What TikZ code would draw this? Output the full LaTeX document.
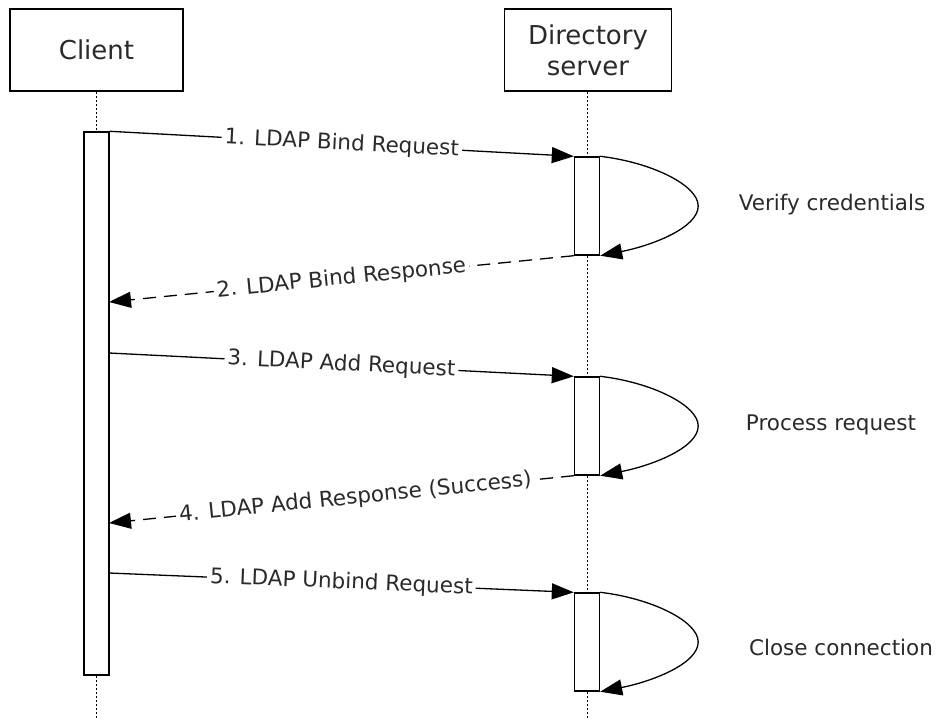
\documentclass[tikz,border=0pt]{standalone}
\usepackage{fontspec}
\setmainfont{DejaVu Sans}
\usetikzlibrary{arrows.meta}
\definecolor{txt}{HTML}{2A2A2A}
\begin{document}
\begin{tikzpicture}[x=1pt,y=-1pt,
  actor/.style={draw, line width=1.4pt, minimum width=#1, minimum height=82pt, inner sep=0pt,
    font=\fontsize{26}{31}\selectfont, text=txt, align=center},
  bar/.style={draw, line width=1.4pt, fill=white, minimum width=25pt, minimum height=#1, inner sep=0pt},
  life/.style={line width=1pt, dash pattern=on 2pt off 2pt},
  tip/.style={-{Triangle[length=22pt,width=16pt]}},
  msg/.style={line width=1.3pt, tip},
  reply/.style={line width=1.3pt, tip, dash pattern=on 13pt off 8pt},
  lbl/.style={sloped, fill=white, inner sep=3pt, font=\fontsize{21.5}{26}\selectfont, text=txt},
  note/.style={font=\fontsize{21.5}{26}\selectfont, text=txt}]
\useasboundingbox (0,0) rectangle (936,719);

% actors
\node[actor=173pt] (client) at (96.5,50) {Client};
\node[actor=167pt] (server) at (588,50) {Directory\\server};

% activation bars
\node[bar=543pt] (ca) at (96.5,403.5) {};
\node[bar=98pt] (s1) at (587,206) {};
\node[bar=98pt] (s2) at (587,426) {};
\node[bar=98pt] (s3) at (587,642) {};

% lifeline ends
\coordinate (cend) at (96.5,719);
\coordinate (send) at (587,719);

\draw[life] (client.south) -- (ca.north);
\draw[life] (ca.south) -- (cend);
\draw[life] (server.south -| s1.north) -- (s1.north);
\draw[life] (s1.south) -- (s2.north);
\draw[life] (s2.south) -- (s3.north);
\draw[life] (s3.south) -- (send);

% message end points on client bar
\coordinate (m2) at (109,302);
\coordinate (m3) at (109,353);
\coordinate (m4) at (109,523);
\coordinate (m5) at (109,573);

\draw[msg] (ca.north east) -- node[lbl] {1. LDAP Bind Request} (s1.north west);
\draw[reply] (s1.south west) -- node[lbl] {2. LDAP Bind Response} (m2);
\draw[msg] (m3) -- node[lbl] {3. LDAP Add Request} (s2.north west);
\draw[reply] (s2.south west) -- node[lbl, pos=0.47] {4. LDAP Add Response (Success)} (m4);
\draw[msg] (m5) -- node[lbl] {5. LDAP Unbind Request} (s3.north west);

% self loops
\foreach \s in {s1,s2,s3}{
  \draw[line width=1.3pt, tip] (\s.north east) .. controls +(51,6) and +(0,-21) .. ([xshift=98pt]\s.east)
     .. controls +(0,22) and +(51,-10) .. (\s.south east);
}

\node[note] (n1) at (832,205) {Verify credentials};
\node[note] (n2) at (831,425) {Process request};
\node[note] (n3) at (841,647) {Close connection};
\end{tikzpicture}
\end{document}
